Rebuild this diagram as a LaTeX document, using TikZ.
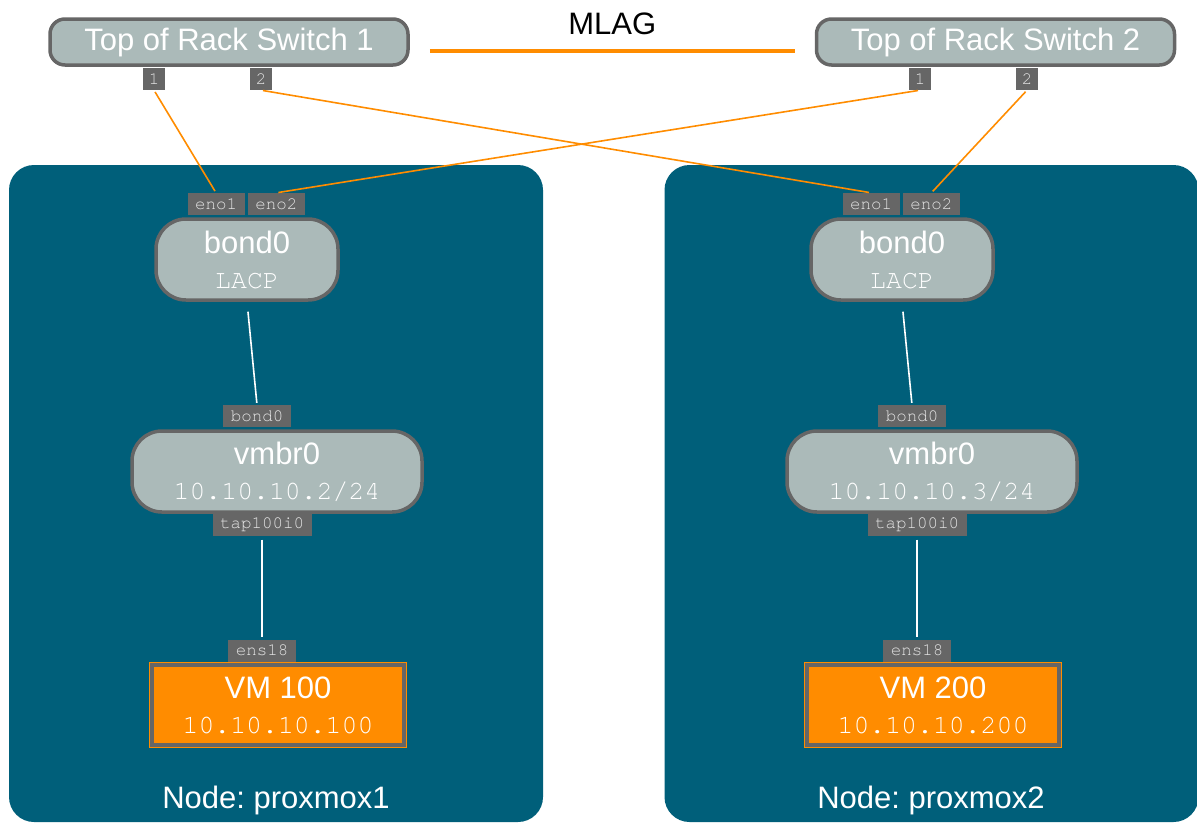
\documentclass[tikz,border=0pt]{standalone}
\usepackage{fontspec}
\setmainfont{Liberation Sans}
\setmonofont{TeX Gyre Cursor}
\usetikzlibrary{positioning}
\frenchspacing

\definecolor{panelblue}{HTML}{005F7A}
\definecolor{boxgray}{HTML}{ABBAB9}
\definecolor{edgegray}{HTML}{666666}
\definecolor{linkorange}{HTML}{FF8C00}

\newcommand{\addr}[1]{{\ttfamily\fontsize{26.5}{30}\selectfont #1}}

\begin{document}
\begin{tikzpicture}[
  x=1pt, y=-1pt,
  big/.style={font=\fontsize{31}{35}\selectfont},
  panel/.style={fill=panelblue, rounded corners=25pt, minimum width=534pt, minimum height=657pt, inner sep=0pt},
  switch/.style={big, draw=edgegray, line width=3.5pt, fill=boxgray, text=white, rounded corners=15pt, minimum width=358pt, minimum height=46pt, inner sep=0pt},
  bridge/.style={big, draw=edgegray, line width=3.5pt, fill=boxgray, text=white, rounded corners=30pt, minimum height=81pt, inner sep=0pt, align=center},
  vm/.style={big, preaction={draw=linkorange, line width=6pt}, draw=edgegray, line width=4pt, fill=linkorange, text=white, minimum width=252pt, minimum height=80pt, inner sep=0pt, align=center},
  iface/.style={fill=edgegray, text=black!10, font=\ttfamily\fontsize{17.5}{20}\selectfont, minimum height=22pt, inner ysep=0pt, inner xsep=7.5pt},
  port/.style={iface, minimum width=22pt, inner xsep=0pt},
  uplink/.style={draw=linkorange, line width=1.6pt, shorten <=2pt, shorten >=2pt},
  bridgelink/.style={draw=white, line width=1.6pt}
]
\useasboundingbox (0,0) rectangle (1197,823);

\node[panel] (hostA) at (276,493.5) {};
\node[panel] (hostB) at (931.5,493.5) {};

\node[switch] (sw1) at (229,42) {Top of Rack Switch 1};
\node[switch] (sw2) at (995.5,42) {Top of Rack Switch 2};
\node[port] (sw1p1) at (154,79) {1};
\node[port] (sw1p2) at (261,79) {2};
\node[port] (sw2p1) at (920,79) {1};
\node[port] (sw2p2) at (1027,79) {2};

\draw[linkorange, line width=4pt, shorten <=20pt, shorten >=20pt]
  ([yshift=-9pt]sw1.east) -- node[above=14pt, inner sep=0pt, big, text=black] (mlag) {MLAG} ([yshift=-9pt]sw2.west);

% proxmox1
\node[bridge, minimum width=182pt] (bondA) at (247,259.5) {bond0\\\addr{LACP}};
\node[iface] (enoA1) at (216,204) {eno1};
\node[iface, right=3pt of enoA1] (enoA2) {eno2};
\node[iface] (bportA) at (257,416) {bond0};
\node[bridge, minimum width=290pt] (vmbrA) at (277,471.5) {vmbr0\\\addr{10.10.10.2/24}};
\node[iface] (tapA) at (262,524.5) {tap100i0};
\node[iface] (ensA) at (262,650.5) {ens18};
\node[vm] (vmA) at (278,705) {VM 100\\\addr{10.10.10.100}};
\node[big, text=white] (nameA) at (276,800) {Node: proxmox1};

% proxmox2
\node[bridge, minimum width=182pt] (bondB) at (902,259.5) {bond0\\\addr{LACP}};
\node[iface] (enoB1) at (871,204) {eno1};
\node[iface, right=3pt of enoB1] (enoB2) {eno2};
\node[iface] (bportB) at (912,416) {bond0};
\node[bridge, minimum width=290pt] (vmbrB) at (932,471.5) {vmbr0\\\addr{10.10.10.3/24}};
\node[iface] (tapB) at (917,524.5) {tap100i0};
\node[iface] (ensB) at (917,650.5) {ens18};
\node[vm] (vmB) at (933,705) {VM 200\\\addr{10.10.10.200}};
\node[big, text=white] (nameB) at (931,800) {Node: proxmox2};

\draw[uplink] (sw1p1.south) -- (enoA1.north);
\draw[uplink] (sw1p2.south) -- (enoB1.north);
\draw[uplink] (sw2p1.south) -- (enoA2.north);
\draw[uplink] (sw2p2.south) -- (enoB2.north);

\draw[bridgelink, shorten <=10pt, shorten >=2pt] (bondA.south) -- (bportA.north);
\draw[bridgelink, shorten <=10pt, shorten >=2pt] (bondB.south) -- (bportB.north);
\draw[bridgelink, shorten <=4pt, shorten >=2pt] (tapA.south) -- (ensA.north);
\draw[bridgelink, shorten <=4pt, shorten >=2pt] (tapB.south) -- (ensB.north);

\end{tikzpicture}
\end{document}
